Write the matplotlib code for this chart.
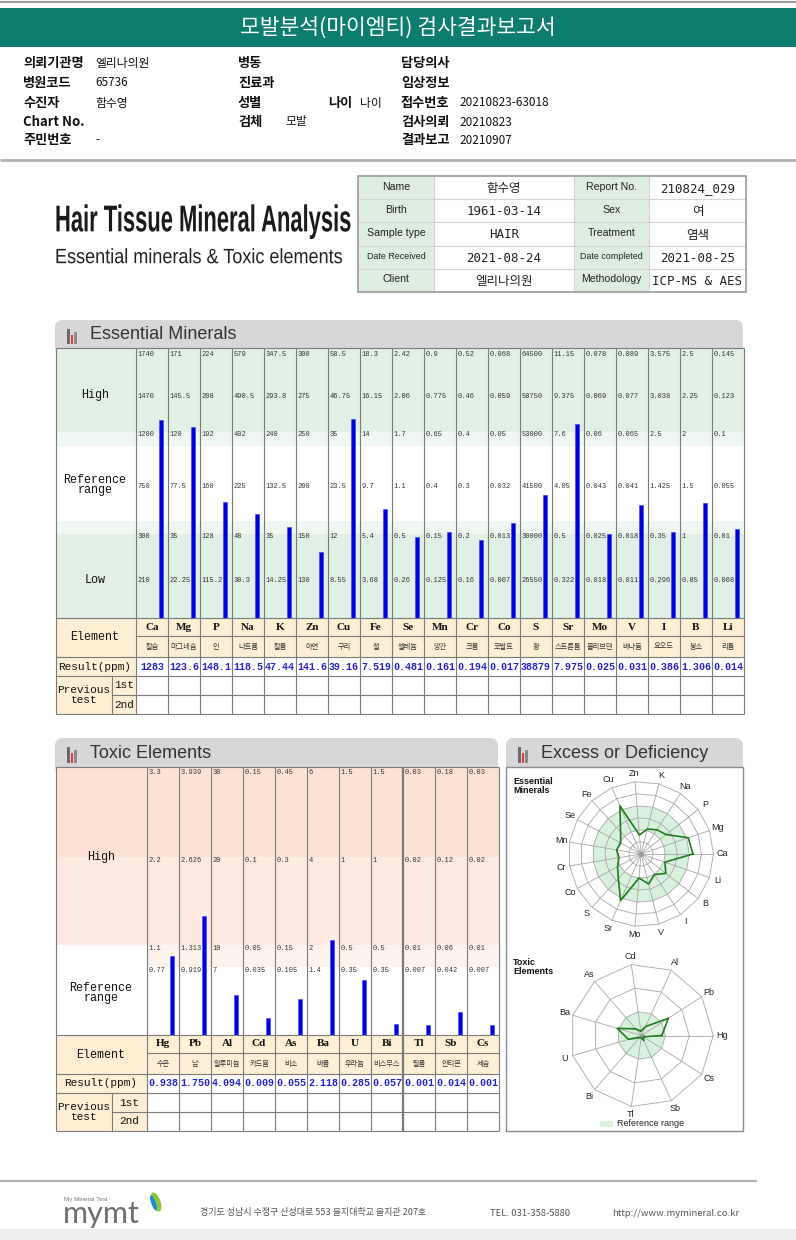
import numpy as np
import matplotlib
matplotlib.use("Agg")
import matplotlib.pyplot as plt
from matplotlib import font_manager
from matplotlib.patches import Rectangle, FancyBboxPatch, Ellipse
from matplotlib.patheffects import AbstractPathEffect
from matplotlib.transforms import Affine2D

W, H = 796, 1240

KR = ["Noto Sans CJK KR", "DejaVu Sans"]
MONO = ["Liberation Mono", "DejaVu Sans Mono"]
SERIF = ["Liberation Serif", "DejaVu Serif"]
SANS = ["Liberation Sans", "DejaVu Sans"]

TEAL = "#0d7d72"
GRID = "#7a7a7a"
G_DARK, G_LIGHT = "#e0f0e4", "#eef7f1"
P_DARK, P_MID, P_LIGHT = "#fde2d4", "#fdeae0", "#fdf3ed"
BEIGE = "#fdefd3"
BAR = "#0000dc"
SHADE = "#d8f1dc"

# ---- 보고서 정보
info_col1 = [("의뢰기관명", "엘리나의원"), ("병원코드", "65736"), ("수진자", "함수영"),
             ("Chart No.", ""), ("주민번호", "-")]
info_col2 = [("병동", ""), ("진료과", ""), ("성별", ""), ("검체", "모발")]
info_col3 = [("담당의사", ""), ("임상정보", ""), ("접수번호", "20210823-63018"),
             ("검사의뢰", "20210823"), ("결과보고", "20210907")]

pt_labels_l = ["Name", "Birth", "Sample type", "Date Received", "Client"]
pt_values_l = ["함수영", "1961-03-14", "HAIR", "2021-08-24", "엘리나의원"]
pt_labels_r = ["Report No.", "Sex", "Treatment", "Date completed", "Methodology"]
pt_values_r = ["210824_029", "여", "염색", "2021-08-25", "ICP-MS & AES"]

# ---- 필수 미네랄
ess_symbols = ["Ca", "Mg", "P", "Na", "K", "Zn", "Cu", "Fe", "Se", "Mn",
               "Cr", "Co", "S", "Sr", "Mo", "V", "I", "B", "Li"]
ess_korean = ["칼슘", "마그네슘", "인", "나트륨", "칼륨", "아연", "구리", "철", "셀레늄", "망간",
              "크롬", "코발트", "황", "스트론튬", "몰리브덴", "바나듐", "요오드", "붕소", "리튬"]
ess_levels = [
    [210, 300, 750, 1200, 1470, 1740],
    [22.25, 35, 77.5, 120, 145.5, 171],
    [115.2, 128, 160, 192, 208, 224],
    [30.3, 48, 225, 402, 490.5, 579],
    [14.25, 35, 132.5, 240, 293.8, 347.5],
    [130, 150, 200, 250, 275, 300],
    [8.55, 12, 23.5, 35, 46.75, 58.5],
    [3.68, 5.4, 9.7, 14, 16.15, 18.3],
    [0.26, 0.5, 1.1, 1.7, 2.06, 2.42],
    [0.125, 0.15, 0.4, 0.65, 0.775, 0.9],
    [0.16, 0.2, 0.3, 0.4, 0.46, 0.52],
    [0.007, 0.013, 0.032, 0.05, 0.059, 0.068],
    [26550, 30000, 41500, 53000, 58750, 64500],
    [0.322, 0.5, 4.05, 7.6, 9.375, 11.15],
    [0.018, 0.025, 0.043, 0.06, 0.069, 0.078],
    [0.011, 0.018, 0.041, 0.065, 0.077, 0.089],
    [0.296, 0.35, 1.425, 2.5, 3.038, 3.575],
    [0.85, 1, 1.5, 2, 2.25, 2.5],
    [0.008, 0.01, 0.055, 0.1, 0.123, 0.145],
]
ess_results = [1283, 123.6, 148.1, 118.5, 47.44, 141.6, 39.16, 7.519, 0.481, 0.161,
               0.194, 0.017, 38879, 7.975, 0.025, 0.031, 0.386, 1.306, 0.014]

# ---- 유해 중금속
tox_symbols = ["Hg", "Pb", "Al", "Cd", "As", "Ba", "U", "Bi", "Tl", "Sb", "Cs"]
tox_korean = ["수은", "납", "알루미늄", "카드뮴", "비소", "바륨", "우라늄", "비스무스", "탈륨", "안티몬", "세슘"]
tox_levels = [
    [0.77, 1.1, 2.2, 3.3],
    [0.919, 1.313, 2.626, 3.939],
    [7, 10, 20, 30],
    [0.035, 0.05, 0.1, 0.15],
    [0.105, 0.15, 0.3, 0.45],
    [1.4, 2, 4, 6],
    [0.35, 0.5, 1, 1.5],
    [0.35, 0.5, 1, 1.5],
    [0.007, 0.01, 0.02, 0.03],
    [0.042, 0.06, 0.12, 0.18],
    [0.007, 0.01, 0.02, 0.03],
]
tox_results = [0.938, 1.750, 4.094, 0.009, 0.055, 2.118, 0.285, 0.057, 0.001, 0.014, 0.001]

# 막대 높이 위치(px) - 각 기준값이 놓이는 높이
ESS_POS = [0, 41, 84, 135, 186, 224, 267]
TOX_POS = [0, 68, 90, 178, 265]


def has_font(name):
    try:
        font_manager.findfont(font_manager.FontProperties(family=name), fallback_to_default=False)
        return True
    except ValueError:
        return False


NARROW = has_font("Liberation Sans Narrow")


class Stretch(AbstractPathEffect):
    """글자를 세로로 늘려서 그림 (condensed 폰트 대용)"""
    def __init__(self, sx, sy, x0, y0):
        super().__init__()
        self.sx, self.sy, self.x0, self.y0 = sx, sy, x0, H - y0

    def draw_path(self, renderer, gc, tpath, affine, rgbFace=None):
        t = affine + (Affine2D().translate(-self.x0, -self.y0)
                      .scale(self.sx, self.sy).translate(self.x0, self.y0))
        renderer.draw_path(gc, tpath, t, rgbFace)


fig = plt.figure(figsize=(W / 100, H / 100), dpi=100)
bg = fig.add_axes([0, 0, 1, 1])
bg.set_xlim(0, W)
bg.set_ylim(H, 0)
bg.axis("off")


def px_axes(x0, y0, x1, y1):
    ax = fig.add_axes([x0 / W, 1 - y1 / H, (x1 - x0) / W, (y1 - y0) / H])
    ax.patch.set_alpha(0)
    ax.axis("off")
    return ax


def box(x0, y0, x1, y1, fc="none", ec="none", lw=0.8, z=1):
    bg.add_patch(Rectangle((x0, y0), x1 - x0, y1 - y0, fc=fc, ec=ec, lw=lw, zorder=z))


def hline(y, x0, x1, c=GRID, lw=0.8, z=3):
    bg.plot([x0, x1], [y, y], color=c, lw=lw, zorder=z, solid_capstyle="butt")


def vline(x, y0, y1, c=GRID, lw=0.8, z=3):
    bg.plot([x, x], [y0, y1], color=c, lw=lw, zorder=z, solid_capstyle="butt")


def txt(x, y, s, size, ha="left", va="center", family=KR, color="#111", weight="normal", **kw):
    return bg.text(x, y, s, fontsize=size, ha=ha, va=va, family=family, color=color,
                   fontweight=weight, zorder=5, **kw)


def section(x0, x1, y0, y1, title):
    bg.add_patch(FancyBboxPatch((x0, y0), x1 - x0, y1 - y0 + 8,
                                boxstyle="round,pad=0,rounding_size=8",
                                fc="#d7d7da", ec="none", zorder=1))
    box(x0 + 12, y0 + 9, x0 + 14.5, y1 - 3, fc="#6a6a6a", z=2)
    box(x0 + 15.5, y0 + 15, x0 + 18, y1 - 3, fc="#e53935", z=2)
    box(x0 + 19, y0 + 12, x0 + 21.5, y1 - 3, fc="#8a8a8a", z=2)
    txt(x0 + 35, (y0 + y1) / 2 + 1, title, 13, family=SANS, color="#333")


def header():
    hline(1.5, 0, W, c="#9a9a9a", lw=1.5)
    box(0, 8, W, 47, fc=TEAL)
    txt(398, 28, "모발분석(마이엠티) 검사결과보고서", 15.5, ha="center", color="white", weight="medium")

    info_y = [63, 83, 103, 122, 140]
    for (lab, val), y in zip(info_col1, info_y):
        txt(23, y, lab, 9.5, weight="bold")
        txt(95, y, val, 8.5)
    for (lab, val), y in zip(info_col2, info_y):
        txt(238, y, lab, 9.5, weight="bold")
        txt(285, y, val, 8.5)
    txt(328, 103, "나이", 9.5, weight="bold")
    txt(360, 103, "나이", 8.5)
    for (lab, val), y in zip(info_col3, info_y):
        txt(401, y, lab, 9.5, weight="bold")
        txt(459, y, val, 8.5)
    hline(160, 0, W, c="#b0b0b0", lw=2)

    if NARROW:
        t = txt(55, 222, "Hair Tissue Mineral Analysis", 19.2,
                family=["Liberation Sans Narrow"], weight="bold", color="#1a1a1a")
        t.set_path_effects([Stretch(1, 1.4, 55, 222)])
        txt(55, 258, "Essential minerals & Toxic elements", 15.8,
            family=["Liberation Sans Narrow"], color="#222")
    else:
        t = txt(55, 222, "Hair Tissue Mineral Analysis", 15.8, family=SANS, weight="bold", color="#1a1a1a")
        t.set_path_effects([Stretch(1, 1.7, 55, 222)])
        t = txt(55, 258, "Essential minerals & Toxic elements", 13, family=SANS, color="#222")
        t.set_path_effects([Stretch(1, 1.15, 55, 258)])

    # 환자 정보 표
    rows = [176, 199.2, 222.4, 245.6, 268.8, 292]
    cols = [358, 434, 574, 649, 746]
    box(cols[0], rows[0], cols[1], rows[-1], fc="#ddeee1")
    box(cols[2], rows[0], cols[3], rows[-1], fc="#ddeee1")
    for y in rows[1:-1]:
        hline(y, cols[0], cols[-1], c="#d4d4d4", lw=0.8)
    for x in cols[1:-1]:
        vline(x, rows[0], rows[-1], c="#d4d4d4", lw=0.8)
    box(cols[0], rows[0], cols[-1], rows[-1], ec="#9a9a9a", lw=1.2, z=4)
    for i in range(5):
        yc = (rows[i] + rows[i + 1]) / 2
        for lab, val, xl, xv in [(pt_labels_l[i], pt_values_l[i], cols[0], cols[1]),
                                 (pt_labels_r[i], pt_values_r[i], cols[2], cols[3])]:
            small = lab.startswith("Date")
            txt((xl + xv) / 2, yc - 1, lab, 6.4 if small else 7.6, ha="center", family=SANS, color="#222")
            xe = cols[cols.index(xv) + 1]
            fam = ["DejaVu Sans Mono"] if val.isascii() else KR
            txt((xv + xe) / 2, yc + 1, val, 9, ha="center", family=fam, color="#222")


def table_lines(x0, x1, col0, split, top, rows, n, colw, thick=None):
    hline(top, x0, x1)
    hline(rows[0], x0, x1)
    hline(rows[1], col0, x1)
    hline(rows[2], x0, x1)
    hline(rows[3], x0, x1)
    hline(rows[4], split, x1)
    hline(rows[5], x0, x1)
    vline(x0, top, rows[5])
    vline(x1, top, rows[5])
    vline(split, rows[3], rows[5])
    for i in range(n):
        lw = 1.6 if i == thick else 0.8
        vline(col0 + colw * i, top, rows[5], lw=lw)


def essential():
    section(55, 743, 320, 347, "Essential Minerals")
    x0, x1, top, bot = 56, 744, 348, 618
    col0, colw = 136, 32
    hi, lo = bot - ESS_POS[4], bot - ESS_POS[2]
    box(x0, top, x1, hi, fc=G_DARK)
    box(x0, hi, x1, hi + 14, fc=G_LIGHT)
    box(x0, hi + 14, x1, lo - 13, fc="white")
    box(x0, lo - 13, x1, lo, fc=G_LIGHT)
    box(x0, lo, x1, bot, fc=G_DARK)
    txt(95, 395, "High", 8.5, ha="center", family=MONO)
    txt(95, 485, "Reference\nrange", 8.5, ha="center", family=MONO, linespacing=0.85)
    txt(95, 580, "Low", 8.5, ha="center", family=MONO)

    rows = [618, 636, 657, 676, 695, 714]
    n = len(ess_symbols)
    box(x0, rows[0], x1, rows[2], fc=BEIGE)
    box(x0, rows[2], col0, rows[5], fc=BEIGE)
    table_lines(x0, x1, col0, 112, top, rows, n, colw)
    txt(95, 637, "Element", 8.5, ha="center", family=MONO)
    txt(95, 666.5, "Result(ppm)", 8, ha="center", family=MONO)
    txt(84, 695, "Previous\ntest", 8, ha="center", family=MONO, linespacing=0.95)
    txt(124, 685.5, "1st", 8, ha="center", family=MONO)
    txt(124, 704.5, "2nd", 8, ha="center", family=MONO)
    for i in range(n):
        xc = col0 + colw * i + colw / 2
        txt(xc, 627, ess_symbols[i], 8, ha="center", family=SERIF, weight="bold")
        txt(xc, 646.5, ess_korean[i], 5.2, ha="center", color="#333")
        txt(xc, 666.5, f"{ess_results[i]:g}", 7.2, ha="center", family=MONO, weight="bold", color="#2323c8")

    ax = px_axes(col0, top, x1, bot)
    ax.set_xlim(0, n)
    ax.set_ylim(0, bot - top)
    heights = [np.interp(v, [0] + lv, ESS_POS) for v, lv in zip(ess_results, ess_levels)]
    ax.bar(np.arange(n) + 25 / colw, heights, width=4.2 / colw, color=BAR,
           edgecolor="#3b3bff", lw=0.4, align="center")
    for i, lv in enumerate(ess_levels):
        for j, v in enumerate(lv):
            ax.text(i + 1.5 / colw, ESS_POS[j + 1] - 3, f"{v:g}", fontsize=5,
                    ha="left", va="center", family=MONO, color="#333")


def toxic():
    section(55, 498, 738, 766, "Toxic Elements")
    x0, x1, top, bot = 56, 499, 767, 1035
    col0, colw = 147, 32
    box(x0, top, x1, bot - TOX_POS[3], fc=P_DARK)
    box(x0, bot - TOX_POS[3], x1, bot - TOX_POS[2], fc=P_MID)
    box(col0, bot - TOX_POS[2], x1, bot - TOX_POS[1], fc=P_LIGHT)
    txt(101, 857, "High", 8.5, ha="center", family=MONO)
    txt(101, 993, "Reference\nrange", 8.5, ha="center", family=MONO, linespacing=0.85)

    rows = [1035, 1053, 1074, 1093, 1112, 1131]
    n = len(tox_symbols)
    box(x0, rows[0], x1, rows[2], fc=BEIGE)
    box(x0, rows[2], col0, rows[5], fc=BEIGE)
    table_lines(x0, x1, col0, 112, top, rows, n, colw, thick=8)
    txt(101, 1054.5, "Element", 8.5, ha="center", family=MONO)
    txt(101, 1083.5, "Result(ppm)", 8, ha="center", family=MONO)
    txt(84, 1112, "Previous\ntest", 8, ha="center", family=MONO, linespacing=0.95)
    txt(129.5, 1102.5, "1st", 8, ha="center", family=MONO)
    txt(129.5, 1121.5, "2nd", 8, ha="center", family=MONO)
    for i in range(n):
        xc = col0 + colw * i + colw / 2
        txt(xc, 1044, tox_symbols[i], 8, ha="center", family=SERIF, weight="bold")
        txt(xc, 1064, tox_korean[i], 5.2, ha="center", color="#333")
        txt(xc, 1083.5, f"{tox_results[i]:.3f}", 7.2, ha="center", family=MONO, weight="bold", color="#2323c8")

    ax = px_axes(col0, top, x1, bot)
    ax.set_xlim(0, n)
    ax.set_ylim(0, bot - top)
    heights = [np.interp(v, [0] + lv, TOX_POS) for v, lv in zip(tox_results, tox_levels)]
    ax.bar(np.arange(n) + 25 / colw, heights, width=4.2 / colw, color=BAR,
           edgecolor="#3b3bff", lw=0.4, align="center")
    for i, lv in enumerate(tox_levels):
        for j, v in enumerate(lv):
            ax.text(i + 1.5 / colw, TOX_POS[j + 1] - 3, f"{v:g}", fontsize=5,
                    ha="left", va="center", family=MONO, color="#333")


def radar(cx, cy, ring_px, n_rings, names, radii, shade_in, shade_out):
    half = 112
    ax = px_axes(cx - half, cy - half, cx + half, cy + half)
    lim = half / ring_px
    ax.set_xlim(-lim, lim)
    ax.set_ylim(-lim, lim)
    n = len(names)
    ang = 2 * np.pi * np.arange(n) / n
    c, s = np.cos(ang), np.sin(ang)
    cc, ss = np.r_[c, c[0]], np.r_[s, s[0]]
    ax.fill(shade_out * c, shade_out * s, color=SHADE, lw=0, zorder=1)
    if shade_in > 0:
        ax.fill(shade_in * c, shade_in * s, color="white", lw=0, zorder=1)
    for k in range(1, n_rings + 1):
        ax.plot(k * cc, k * ss, color="#a8a8a8", lw=0.6, zorder=2)
    for i in range(n):
        ax.plot([0, n_rings * c[i]], [0, n_rings * s[i]], color="#a8a8a8", lw=0.6, zorder=2)
    r = np.asarray(radii)
    ax.plot(np.r_[r, r[0]] * cc, np.r_[r, r[0]] * ss, color="#1e7b1e", lw=1.2, zorder=4)
    ax.plot(0, 0, "o", ms=2.5, color="#999", zorder=3)
    lab_r = n_rings + 8.5 / ring_px
    for i, nm in enumerate(names):
        ax.text(lab_r * c[i], lab_r * s[i], nm, ha="center", va="center",
                fontsize=6.5, family=SANS, color="#222")


def excess():
    section(506, 743, 738, 766, "Excess or Deficiency")
    box(506, 767, 743, 1131, fc="white", ec="#8a8a8a", lw=1, z=2)
    txt(513, 786, "Essential\nMinerals", 6.5, family=SANS, weight="bold", linespacing=1.0)
    txt(513, 967, "Toxic\nElements", 6.5, family=SANS, weight="bold", linespacing=1.0)

    ess_r = [np.interp(v, [0] + lv, np.arange(7)) for v, lv in zip(ess_results, ess_levels)]
    radar(641, 854, 12.07, 6, ess_symbols, ess_r, 2, 4)
    tox_r = [np.interp(v, [0] + lv[1:], np.arange(4)) for v, lv in zip(tox_results, tox_levels)]
    radar(641.5, 1035.5, 23.9, 3, tox_symbols, tox_r, 0, 1)

    box(600, 1121, 613, 1127, fc=SHADE, z=3)
    txt(617, 1124, "Reference range", 6.5, family=SANS, color="#222")


def footer():
    hline(1181, 0, 757, c="#b0b0b0", lw=1.5)
    box(0, 1229, W, H, fc="#eeeeee")
    txt(64, 1199, "My Mineral Test", 4.5, family=SANS, color="#777")
    txt(63, 1214, "mymt", 22, family=["Lato", "DejaVu Sans"], color="#6d6e71")
    bg.add_patch(Ellipse((156, 1202), 9, 20, angle=-20, fc="#8dc63f", ec="none", zorder=4))
    bg.add_patch(Ellipse((153.5, 1203), 4.5, 16, angle=-20, fc="#1f8ccf", ec="none", zorder=4))
    txt(200, 1213, "경기도 성남시 수정구 산성대로 553 을지대학교 을지관 207호", 6.5, color="#555")
    txt(490, 1213, "TEL. 031-358-5880", 6.8, color="#555")
    txt(612, 1213, "http://www.mymineral.co.kr", 6.8, color="#555")


def main():
    header()
    essential()
    toxic()
    excess()
    footer()
    fig.savefig("out.png", dpi=100)


if __name__ == "__main__":
    main()
